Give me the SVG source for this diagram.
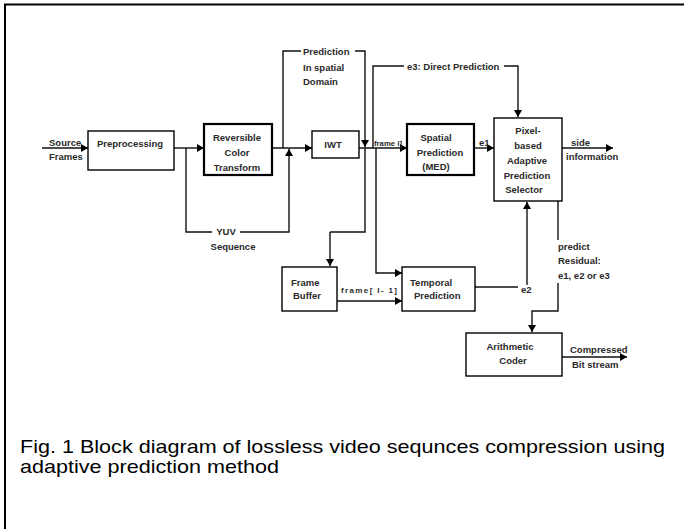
<svg xmlns="http://www.w3.org/2000/svg" width="684" height="529" viewBox="0 0 684 529">
<defs>
<marker id="ah" markerWidth="8" markerHeight="8" refX="7" refY="4" orient="auto" markerUnits="userSpaceOnUse">
<path d="M0,0 L7,4 L0,8 Z" fill="#000"/>
</marker>
<style>
.box{fill:#fff;stroke:#000;stroke-width:1.4}
.tbox{fill:#fff;stroke:#000;stroke-width:2.2}
.ln{fill:none;stroke:#111;stroke-width:1.4}
.ar{fill:none;stroke:#111;stroke-width:1.4;marker-end:url(#ah)}
text{font-family:"Liberation Sans",Arial,sans-serif;font-size:9.5px;font-weight:bold;fill:#2a2a2a}
.c{text-anchor:middle}
.cap{font-size:19px;font-weight:normal;fill:#000}
</style>
</defs>
<rect width="684" height="529" fill="#fff"/>
<path d="M5,529 V4.5 H684" fill="none" stroke="#000" stroke-width="2"/>

<g id="connectors">
<path class="ar" d="M42,148 H88"/>
<path class="ar" d="M174,148 H204"/>
<path class="ln" d="M186,148 V232 H212"/>
<path class="ar" d="M240,232 H289 V149"/>
<path class="ar" d="M272,148 H312"/>
<path class="ln" d="M283,148 V51 H301"/>
<path class="ar" d="M355,51 H365 V147"/>
<path class="ln" d="M365,148 V232 H330"/>
<path class="ar" d="M330,232 V266"/>
<path class="ar" d="M359,148 H407"/>
<path class="ln" d="M373,148 V66 H404"/>
<path class="ar" d="M504,66 H518 V117"/>
<path class="ar" d="M376,148 V273 H402"/>
<path class="ar" d="M337,301 H402"/>
<path class="ar" d="M474,148 H494"/>
<path class="ar" d="M562,148 H613"/>
<path class="ln" d="M475,287 H518"/>
<path class="ar" d="M527,285 V202"/>
<path class="ln" d="M558,201 V240"/>
<path class="ar" d="M558,283 V311 H532 V332"/>
<path class="ar" d="M562,357 H627"/>
</g>

<g id="preprocessing"><rect class="box" x="88" y="131" width="86" height="39"/><text x="130" y="147" class="c">Preprocessing</text></g>
<g id="rct"><rect class="tbox" x="204" y="124" width="68" height="51"/><text x="237" y="141" class="c">Reversible</text><text x="237" y="156" class="c">Color</text><text x="237" y="171" class="c">Transform</text></g>
<g id="iwt"><rect class="box" x="312" y="131" width="47" height="27"/><text x="333" y="148" class="c">IWT</text></g>
<g id="spatial"><rect class="tbox" x="407" y="124" width="67" height="51"/><text x="436" y="141" class="c">Spatial</text><text x="440" y="156" class="c">Prediction</text><text x="436" y="170" class="c">(MED)</text></g>
<g id="selector"><rect class="box" x="494" y="118" width="68" height="83"/><text x="528" y="134" class="c">Pixel-</text><text x="528" y="149" class="c">based</text><text x="527" y="164" class="c">Adaptive</text><text x="527" y="179" class="c">Prediction</text><text x="524" y="193" class="c">Selector</text></g>
<g id="framebuffer"><rect class="box" x="282" y="267" width="55" height="44"/><text x="291" y="286">Frame</text><text x="293" y="299">Buffer</text></g>
<g id="temporal"><rect class="box" x="402" y="267" width="73" height="44"/><text x="410" y="286">Temporal</text><text x="414" y="299">Prediction</text></g>
<g id="coder"><rect class="box" x="466" y="333" width="96" height="43"/><text x="510" y="350" class="c">Arithmetic</text><text x="513" y="364" class="c">Coder</text></g>

<g id="labels">
<text x="49" y="146">Source</text>
<text x="49" y="160">Frames</text>
<text x="226" y="235" class="c">YUV</text>
<text x="233" y="250" class="c">Sequence</text>
<text x="303" y="55">Prediction</text>
<text x="303" y="71">In spatial</text>
<text x="303" y="85">Domain</text>
<text x="407" y="70">e3: Direct Prediction</text>
<text x="374" y="146" style="font-size:6.5px" textLength="28" lengthAdjust="spacingAndGlyphs">frame i]</text>
<text x="479" y="146">e1</text>
<text x="571" y="146">side</text>
<text x="566" y="160">information</text>
<text x="341" y="293" style="font-size:8px" textLength="56" lengthAdjust="spacing">frame[ I- 1]</text>
<text x="521" y="293">e2</text>
<text x="558" y="250">predict</text>
<text x="558" y="264">Residual:</text>
<text x="558" y="279">e1, e2 or e3</text>
<text x="570" y="353">Compressed</text>
<text x="572" y="368">Bit stream</text>
</g>

<g id="caption">
<text x="20" y="453" class="cap" textLength="645" lengthAdjust="spacingAndGlyphs">Fig. 1 Block diagram of lossless video sequnces compression using</text>
<text x="20" y="473" class="cap" textLength="259" lengthAdjust="spacingAndGlyphs">adaptive prediction method</text>
</g>
</svg>
